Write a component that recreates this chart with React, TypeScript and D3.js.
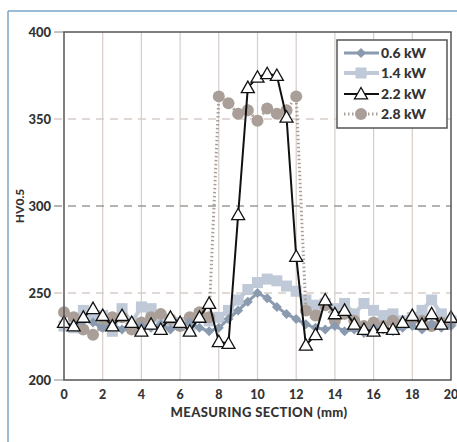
import React from "react";
import * as d3 from "d3";

const xs = d3.range(0, 20.01, 0.5);
const seriesNames = ["0.6 kW", "1.4 kW", "2.2 kW", "2.8 kW"];
const kw06 = [232, 231, 234, 233, 230, 232, 229, 233, 231, 230, 232, 229, 231, 233, 230, 228, 230, 235, 240, 245, 250, 247, 242, 238, 235, 232, 230, 229, 231, 228, 229, 227, 230, 229, 228, 230, 231, 229, 232, 230, 231];
const kw14 = [231, 230, 240, 236, 237, 228, 241, 233, 242, 241, 236, 232, 233, 229, 238, 234, 236, 240, 246, 252, 256, 258, 257, 254, 251, 246, 243, 244, 241, 244, 238, 244, 240, 237, 238, 234, 236, 240, 246, 238, 234];
const kw22 = [233, 231, 236, 241, 237, 231, 237, 233, 228, 232, 229, 236, 233, 228, 236, 244, 222, 221, 295, 368, 374, 376, 375, 351, 271, 220, 226, 246, 238, 240, 232, 229, 228, 230, 229, 233, 237, 232, 238, 232, 236];
const kw28 = [239, 236, 229, 226, 231, 236, 236, 229, 233, 236, 238, 235, 231, 236, 239, 236, 363, 359, 353, 355, 349, 356, 353, 355, 363, 240, 237, 243, 234, 238, 234, 231, 233, 231, 234, 232, 235, 234, 231, 233, 234];
const xTicks = [0, 2, 4, 6, 8, 10, 12, 14, 16, 18, 20];
const yTicks = [200, 250, 300, 350, 400];

const FONT = "Lato, 'Open Sans', sans-serif";

export default function App() {
  const W = 457, H = 442;
  const x = d3.scaleLinear().domain([0, 20]).range([64, 451]);
  const y = d3.scaleLinear().domain([200, 400]).range([380, 32]);
  const line = (vals: number[]) =>
    d3.line<number>().x((_, i) => x(xs[i])).y((v) => y(v))(vals) || "";

  const c06 = "#8a9bb0";
  const c14 = "#bfc9d7";
  const c28 = "#aa9f98";

  const diamond = (cx: number, cy: number, s: number, key: any) => (
    <path key={key} d={`M${cx},${cy - s}L${cx + s},${cy}L${cx},${cy + s}L${cx - s},${cy}Z`} fill={c06} />
  );
  const square = (cx: number, cy: number, s: number, key: any) => (
    <rect key={key} x={cx - s} y={cy - s} width={2 * s} height={2 * s} fill={c14} />
  );
  const tri = (cx: number, cy: number, s: number, key: any) => (
    <path key={key} d={`M${cx},${cy - s}L${cx + s},${cy + s * 0.75}L${cx - s},${cy + s * 0.75}Z`} fill="#fff" stroke="#111" strokeWidth={1.3} />
  );
  const circ = (cx: number, cy: number, r: number, key: any) => (
    <circle key={key} cx={cx} cy={cy} r={r} fill={c28} />
  );

  const legendRows = [
    { name: seriesNames[0], y: 53 },
    { name: seriesNames[1], y: 73 },
    { name: seriesNames[2], y: 94 },
    { name: seriesNames[3], y: 114 },
  ];

  return (
    <svg width={W} height={H} style={{ position: "absolute", left: 0, top: 0, background: "#fff" }} fontFamily={FONT}>
      {/* outer frame */}
      <line x1={8} y1={11} x2={8} y2={H} stroke="#7ba6c9" strokeWidth={1.5} />
      <line x1={8} y1={11} x2={W} y2={11} stroke="#7ba6c9" strokeWidth={1.5} />

      {/* vertical grid */}
      {xTicks.slice(1, -1).map((t) => (
        <line key={"vg" + t} x1={x(t)} x2={x(t)} y1={32} y2={380} stroke="#d6cdc8" strokeWidth={1.2} />
      ))}
      {/* horizontal dashed grid */}
      {[250, 300, 350].map((t) => (
        <line key={"hg" + t} x1={54} x2={451} y1={y(t)} y2={y(t)} stroke={t === 300 ? "#a09a98" : "#d8cdc8"} strokeWidth={1.3} strokeDasharray="8,6" />
      ))}
      {[200, 400].map((t) => (
        <line key={"tk" + t} x1={54} x2={64} y1={y(t)} y2={y(t)} stroke="#888" strokeWidth={1} />
      ))}

      {/* series: 1.4 kW */}
      <path d={line(kw14)} fill="none" stroke={c14} strokeWidth={4} />
      {kw14.map((v, i) => square(x(xs[i]), y(v), 5.5, "s" + i))}
      {/* 2.8 kW */}
      <path d={line(kw28)} fill="none" stroke={c28} strokeWidth={3} strokeDasharray="1.5,2.5" />
      {kw28.map((v, i) => circ(x(xs[i]), y(v), 6, "c" + i))}
      {/* 0.6 kW */}
      <path d={line(kw06)} fill="none" stroke={c06} strokeWidth={3} />
      {kw06.map((v, i) => diamond(x(xs[i]), y(v), 5, "d" + i))}
      {/* 2.2 kW */}
      <path d={line(kw22)} fill="none" stroke="#111" strokeWidth={2} />
      {kw22.map((v, i) => tri(x(xs[i]), y(v), 6.5, "t" + i))}

      {/* plot border */}
      <rect x={64} y={32} width={451 - 64} height={380 - 32} fill="none" stroke="#555" strokeWidth={1.5} />

      {/* axis labels */}
      {yTicks.map((t) => (
        <text key={"yl" + t} x={51} y={y(t)} dy="0.35em" textAnchor="end" fontSize={13} fontWeight={900} fill="#333">{t}</text>
      ))}
      {xTicks.map((t) => (
        <text key={"xl" + t} x={x(t)} y={395} dy="0.35em" textAnchor="middle" fontSize={12.5} fontWeight={900} fill="#333">{t}</text>
      ))}
      <text x={259} y={412} dy="0.35em" textAnchor="middle" fontSize={13} fontWeight={900} fill="#333" letterSpacing={0.4}>MEASURING SECTION (mm)</text>
      <text transform="translate(20,206) rotate(-90)" textAnchor="middle" dy="0.35em" fontSize={12} fontWeight={900} fill="#333">HV0.5</text>

      {/* legend */}
      <rect x={337} y={40} width={110} height={88} fill="#fff" stroke="#555" strokeWidth={1.5} />
      {legendRows.map((r, i) => (
        <g key={"lg" + i}>
          {i === 0 && <line x1={344} x2={379} y1={r.y} y2={r.y} stroke={c06} strokeWidth={3} />}
          {i === 0 && diamond(361, r.y, 5, "ld")}
          {i === 1 && <line x1={344} x2={379} y1={r.y} y2={r.y} stroke={c14} strokeWidth={4} />}
          {i === 1 && square(361, r.y, 5.5, "ls")}
          {i === 2 && <line x1={344} x2={379} y1={r.y} y2={r.y} stroke="#111" strokeWidth={2} />}
          {i === 2 && tri(361, r.y, 6.5, "lt")}
          {i === 3 && <line x1={344} x2={379} y1={r.y} y2={r.y} stroke={c28} strokeWidth={3} strokeDasharray="1.5,2.5" />}
          {i === 3 && circ(361, r.y, 6, "lc")}
          <text x={381} y={r.y} dy="0.35em" fontSize={14} fontWeight={900} fill="#333">{r.name}</text>
        </g>
      ))}
    </svg>
  );
}
